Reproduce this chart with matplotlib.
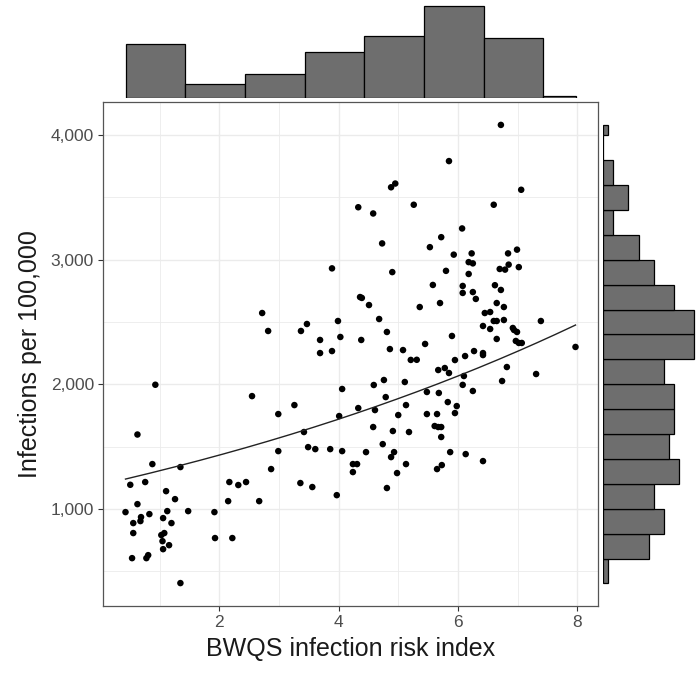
import numpy as np
import matplotlib
matplotlib.use("Agg")
import matplotlib.pyplot as plt
from matplotlib.ticker import FuncFormatter, MultipleLocator

plt.rcParams['font.family'] = ['Liberation Sans', 'DejaVu Sans']

# BWQS infection risk index (x) and infections per 100,000 (y)
risk_index = [
    6.72, 5.85, 4.88, 4.95, 7.06, 4.33, 4.58, 5.26, 6.60, 6.07,
    5.72, 5.53, 4.73, 5.93, 6.23, 6.18, 6.25, 6.99, 6.84, 6.85,
    6.70, 6.79, 7.02, 6.18, 4.90, 5.80, 3.89, 6.62, 6.72, 6.08,
    6.08, 6.25, 6.30, 5.58, 4.36, 4.39, 4.51, 5.70, 5.36, 6.65,
    6.77, 6.45, 6.54, 6.60, 6.65, 6.77, 7.39, 4.68, 3.99, 2.72,
    2.82, 3.37, 3.47, 6.42, 6.54, 6.92, 6.94, 6.99, 4.81, 4.38,
    4.03, 3.69, 5.90, 6.65, 6.97, 7.02, 7.07, 4.86, 5.08, 5.45,
    7.97, 6.27, 6.42, 6.42,
    5.21, 5.31, 5.95, 6.12, 5.67, 5.78, 5.85, 6.82, 7.31, 6.74,
    4.59, 4.76, 5.11, 6.10, 6.08, 6.25, 5.48, 5.68, 4.79, 5.13,
    5.83, 5.98, 4.33, 4.61, 5.00, 5.48, 5.65, 5.95, 4.58, 4.91,
    5.18, 5.61, 5.67, 5.72, 5.72, 4.74, 4.46, 4.88, 4.93, 5.87,
    6.13, 6.42, 4.24, 4.31, 4.24, 5.13, 4.98, 5.65, 5.73, 4.81,
    3.69, 3.89, 0.93, 4.06, 2.55, 3.26, 2.99, 4.01, 0.63, 3.42,
    3.49, 3.61, 3.86, 4.06, 2.99, 0.88, 1.35, 2.87, 0.51, 0.76,
    2.17, 2.32, 2.45, 3.36, 3.56, 3.97, 1.11, 1.26, 0.63, 2.15,
    2.67, 0.43, 0.83, 1.13, 1.48, 1.92, 0.69, 0.68, 0.56, 1.06,
    1.20, 0.56, 1.03, 1.08, 1.05, 1.93, 2.22, 1.06, 1.16, 0.54,
    0.78, 0.81, 1.35,
]
infections = [
    4080, 3790, 3580, 3610, 3560, 3420, 3370, 3440, 3440, 3250,
    3180, 3100, 3130, 3040, 3050, 2980, 2970, 3080, 3050, 2960,
    2925, 2920, 2940, 2885, 2900, 2910, 2930, 2795, 2757, 2789,
    2733, 2740, 2685, 2797, 2700, 2693, 2636, 2652, 2620, 2652,
    2620, 2572, 2580, 2508, 2508, 2516, 2508, 2524, 2508, 2572,
    2428, 2428, 2484, 2468, 2444, 2452, 2436, 2420, 2420, 2356,
    2380, 2356, 2388, 2364, 2348, 2332, 2332, 2283, 2275, 2324,
    2300, 2267, 2251, 2235,
    2196, 2197, 2195, 2227, 2115, 2131, 2091, 2139, 2083, 2027,
    1995, 2035, 2019, 2067, 1996, 1947, 1939, 1931, 1898, 1834,
    1858, 1826, 1810, 1794, 1754, 1762, 1762, 1770, 1658, 1626,
    1618, 1666, 1658, 1658, 1578, 1521, 1457, 1417, 1457, 1457,
    1441, 1385, 1361, 1361, 1297, 1361, 1289, 1321, 1353, 1169,
    2251, 2267, 1997, 1963, 1906, 1834, 1762, 1746, 1598, 1618,
    1497, 1481, 1481, 1465, 1465, 1361, 1337, 1321, 1195, 1217,
    1217, 1193, 1217, 1209, 1177, 1112, 1144, 1080, 1040, 1064,
    1064, 976, 960, 984, 984, 976, 936, 904, 888, 928,
    888, 808, 792, 808, 743, 768, 768, 679, 711, 607,
    607, 631, 407,
]
x_ticks = [2, 4, 6, 8]
y_ticks = [1000, 2000, 3000, 4000]

# fitted curve: y = a * exp(b * x)
curve_a = 1193
curve_b = 0.0916

x = np.array(risk_index)
y = np.array(infections, dtype=float)

xs = np.linspace(x.min(), x.max(), 200)
ys = curve_a * np.exp(curve_b * xs)

xpad = (x.max() - x.min()) * 0.05
ypad = (y.max() - y.min()) * 0.05
xlim = (x.min() - xpad, x.max() + xpad)
ylim = (y.min() - ypad, y.max() + ypad)

fig = plt.figure(figsize=(7, 6.73), dpi=100)
ax = fig.add_axes([103 / 700, 1 - 606 / 673, 495 / 700, 504 / 673])
ax_top = fig.add_axes([103 / 700, 1 - 97.7 / 673, 495 / 700, 96 / 673])
ax_right = fig.add_axes([603 / 700, 1 - 606 / 673, 96 / 700, 504 / 673])

# main scatter
ax.set_xlim(xlim)
ax.set_ylim(ylim)
ax.xaxis.set_minor_locator(MultipleLocator(1))
ax.yaxis.set_minor_locator(MultipleLocator(500))
ax.set_xticks(x_ticks)
ax.set_yticks(y_ticks)
ax.yaxis.set_major_formatter(FuncFormatter(lambda v, p: f"{int(v):,}"))
ax.grid(which='major', color='#ebebeb', lw=1.0, zorder=0)
ax.grid(which='minor', color='#ebebeb', lw=0.6, zorder=0)
ax.set_axisbelow(True)
ax.tick_params(which='minor', length=0)
ax.tick_params(which='major', length=3.5, width=0.8, color='#333333',
               labelcolor='#4d4d4d', labelsize=12.5, pad=3)
for s in ax.spines.values():
    s.set_color('#555555')
    s.set_linewidth(0.9)

ax.scatter(x, y, s=22, color='black', edgecolors='none', zorder=3)
ax.plot(xs, ys, color='#222222', lw=1.0, zorder=4)
ax.set_xlabel('BWQS infection risk index', fontsize=18, color='#1a1a1a', labelpad=5)
ax.set_ylabel('Infections per 100,000', fontsize=18, color='#1a1a1a', labelpad=6)

# marginal histograms, bins clipped to the data range
x_edges = np.append(np.arange(x.min(), x.max(), 1.0), x.max())
y_edges = np.concatenate([[y.min()], np.arange(600, y.max(), 200), [y.max()]])
xc, _ = np.histogram(x, bins=x_edges)
yc, _ = np.histogram(y, bins=y_edges)

ax_top.bar(x_edges[:-1], xc, width=np.diff(x_edges), align='edge',
           color='#6e6e6e', edgecolor='black', lw=0.9)
ax_top.set_xlim(xlim)
ax_top.set_ylim(0, xc.max() * 1.045)
ax_top.axis('off')

ax_right.barh(y_edges[:-1], yc, height=np.diff(y_edges), align='edge',
              color='#6e6e6e', edgecolor='black', lw=0.9)
ax_right.set_ylim(ylim)
ax_right.set_xlim(0, yc.max() * 1.05)
ax_right.axis('off')

fig.savefig('out.png', dpi=100)
